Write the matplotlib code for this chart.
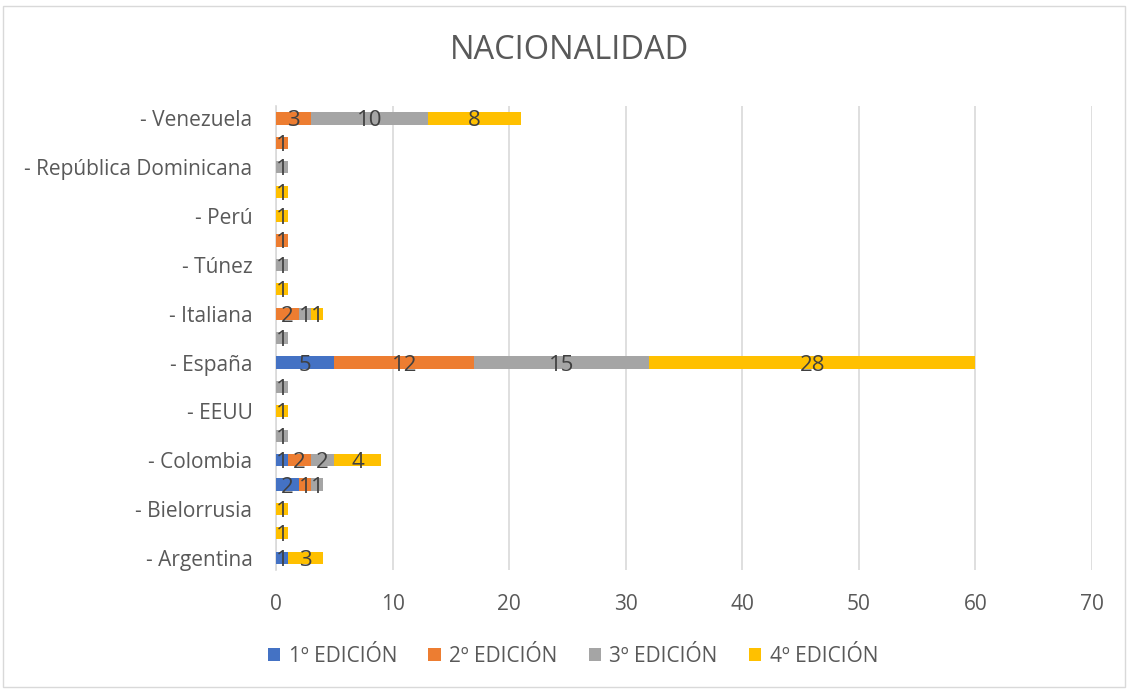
import numpy as np
import matplotlib.pyplot as plt
from matplotlib.patches import Rectangle

plt.rcParams['font.family'] = ['Open Sans', 'DejaVu Sans']

# categories bottom -> top (every second label is hidden in the original chart)
paises = ["- Argentina", "", "- Bielorrusia", "", "- Colombia", "", "- EEUU", "",
          "- España", "", "- Italiana", "", "- Túnez", "", "- Perú", "",
          "- República Dominicana", "", "- Venezuela"]

ed1 = [1, 0, 0, 2, 1, 0, 0, 0, 5, 0, 0, 0, 0, 0, 0, 0, 0, 0, 0]
ed2 = [0, 0, 0, 1, 2, 0, 0, 0, 12, 0, 2, 0, 0, 1, 0, 0, 0, 1, 3]
ed3 = [0, 0, 0, 1, 2, 1, 0, 1, 15, 1, 1, 0, 1, 0, 0, 0, 1, 0, 10]
ed4 = [3, 1, 1, 0, 4, 0, 1, 0, 28, 0, 1, 1, 0, 0, 1, 1, 0, 0, 8]

series = ["1º EDICIÓN", "2º EDICIÓN", "3º EDICIÓN", "4º EDICIÓN"]
colores = ["#4472C4", "#ED7D31", "#A5A5A5", "#FFC000"]
xticks = [0, 10, 20, 30, 40, 50, 60, 70]

fig = plt.figure(figsize=(11.28, 6.9), dpi=100)
ax = fig.add_axes([0.2447, 0.174, 0.7233, 0.672])

y = np.arange(len(paises))
left = np.zeros(len(paises))
for vals, nombre, col in zip([ed1, ed2, ed3, ed4], series, colores):
    vals = np.array(vals, dtype=float)
    bars = ax.barh(y, vals, left=left, height=0.5, color=col, label=nombre, zorder=3)
    txts = ax.bar_label(bars, labels=[str(int(v)) if v else "" for v in vals],
                        label_type='center', fontsize=16, color="#404040", zorder=4)
    for t in txts:
        t.set_va('center_baseline')
    left += vals

ax.set_xlim(0, 70)
ax.set_ylim(-0.5, len(paises) - 0.5)
ax.set_xticks(xticks)
ax.set_yticks(y)
ax.set_yticklabels(paises)
ax.tick_params(axis='both', length=0, labelsize=15, labelcolor="#595959")
ax.tick_params(axis='x', pad=17)
ax.tick_params(axis='y', pad=17)
ax.grid(axis='x', color="#d9d9d9", linewidth=1.2, zorder=0)
for s in ["top", "right", "bottom"]:
    ax.spines[s].set_visible(False)
ax.spines["left"].set_color("#d9d9d9")
ax.spines["left"].set_linewidth(1.2)

fig.text(0.505, 0.927, "NACIONALIDAD", ha='center', va='center',
         fontsize=23.5, color="#595959")

fig.legend(loc='center', bbox_to_anchor=(0.508, 0.049), ncol=4, frameon=False,
           fontsize=15, labelcolor="#595959", handlelength=0.6, handleheight=0.6,
           handletextpad=0.4, columnspacing=1.5)

fig.patches.append(Rectangle((0.003, 0.004), 0.994, 0.987, transform=fig.transFigure,
                             fill=False, edgecolor="#d9d9d9", linewidth=1))

fig.savefig("out.png", dpi=100)
